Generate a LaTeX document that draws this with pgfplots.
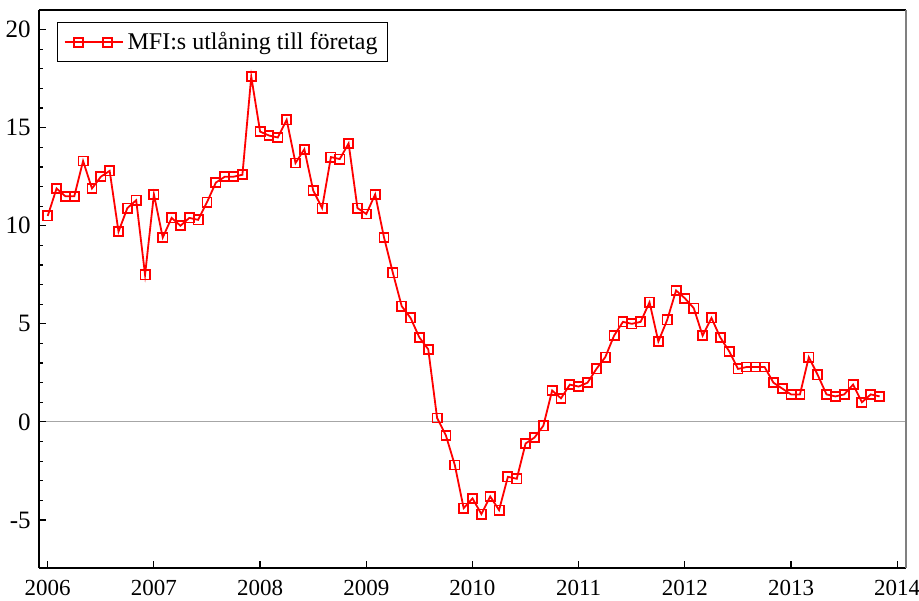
\documentclass[border=0pt]{standalone}
\usepackage{fontspec}
\setmainfont{Liberation Serif}
\usepackage{pgfplots}
\usepackage{pgfplotstable}
\pgfplotsset{compat=1.18}
\pgfplotstableread{
m v
0 10.5
1 11.9
2 11.5
3 11.5
4 13.3
5 11.9
6 12.5
7 12.8
8 9.7
9 10.9
10 11.3
11 7.5
12 11.6
13 9.4
14 10.4
15 10.0
16 10.4
17 10.3
18 11.2
19 12.2
20 12.5
21 12.5
22 12.6
23 17.6
24 14.8
25 14.6
26 14.5
27 15.4
28 13.2
29 13.9
30 11.8
31 10.9
32 13.5
33 13.4
34 14.2
35 10.9
36 10.6
37 11.6
38 9.4
39 7.6
40 5.9
41 5.3
42 4.3
43 3.7
44 0.2
45 -0.7
46 -2.2
47 -4.4
48 -3.9
49 -4.7
50 -3.8
51 -4.5
52 -2.8
53 -2.9
54 -1.1
55 -0.8
56 -0.2
57 1.6
58 1.2
59 1.9
60 1.8
61 2.0
62 2.7
63 3.3
64 4.4
65 5.1
66 5.0
67 5.1
68 6.1
69 4.1
70 5.2
71 6.7
72 6.3
73 5.8
74 4.4
75 5.3
76 4.3
77 3.6
78 2.7
79 2.8
80 2.8
81 2.8
82 2.0
83 1.7
84 1.4
85 1.4
86 3.3
87 2.4
88 1.4
89 1.3
90 1.4
91 1.9
92 1.0
93 1.4
94 1.3
}\datatable
\begin{document}
\fontsize{12}{14}\selectfont
\begin{tikzpicture}
\begin{axis}[
  name=main,
  scale only axis,
  width=433.5pt, height=279pt,
  xmin=2005.918, xmax=2014.082,
  ymin=-7.45, ymax=21,
  axis x line*=bottom, axis y line*=left,
  axis line style={-, black, line width=0.75pt},
  tick align=inside,
  xtick={2006,2007,...,2014},
  ytick={-5,0,5,10,15,20},
  minor x tick num=11,
  minor y tick num=4,
  major tick length=3.5pt,
  minor tick length=2pt,
  tick style={black, line width=0.6pt},
  /pgf/number format/assume math mode=true,
  xticklabel style={/pgf/number format/1000 sep=, font=\fontsize{11.5}{14}\selectfont, yshift=-2pt},
  yticklabel style={font=\fontsize{12.5}{14}\selectfont},
  extra y ticks={0},
  extra y tick labels={},
  extra y tick style={grid=major, major grid style={gray!70, line width=0.6pt}},
  legend style={at={(0.021,0.978)}, anchor=north west, draw=black, line width=0.6pt,
    font=\fontsize{12}{14}\selectfont, inner xsep=3pt, inner ysep=2.5pt},
  legend cell align=left,
  legend image code/.code={
    \draw[#1, mark=none] (0pt,0pt) -- (29pt,0pt);
    \draw[#1, only marks] plot coordinates {(7pt,0pt) (21.5pt,0pt)};
  },
  clip=false,
]
\addplot[red, line width=0.9pt, mark=square, mark size=2.3pt,
  mark options={solid, line width=0.85pt}]
  table[x expr={2006+\thisrow{m}/12}, y=v] {\datatable};
\addlegendentry{MFI:s utlåning till företag}
\draw[black, line width=0.75pt] (rel axis cs:0,1) -- (rel axis cs:1,1);
\draw[gray, line width=1pt] (rel axis cs:1,0) -- (rel axis cs:1,1);
\end{axis}
\pgfresetboundingbox
\path[use as bounding box] ([shift={(-19.5pt,-16pt)}]main.south west) rectangle ([shift={(6.5pt,5pt)}]main.north east);
\end{tikzpicture}
\end{document}
